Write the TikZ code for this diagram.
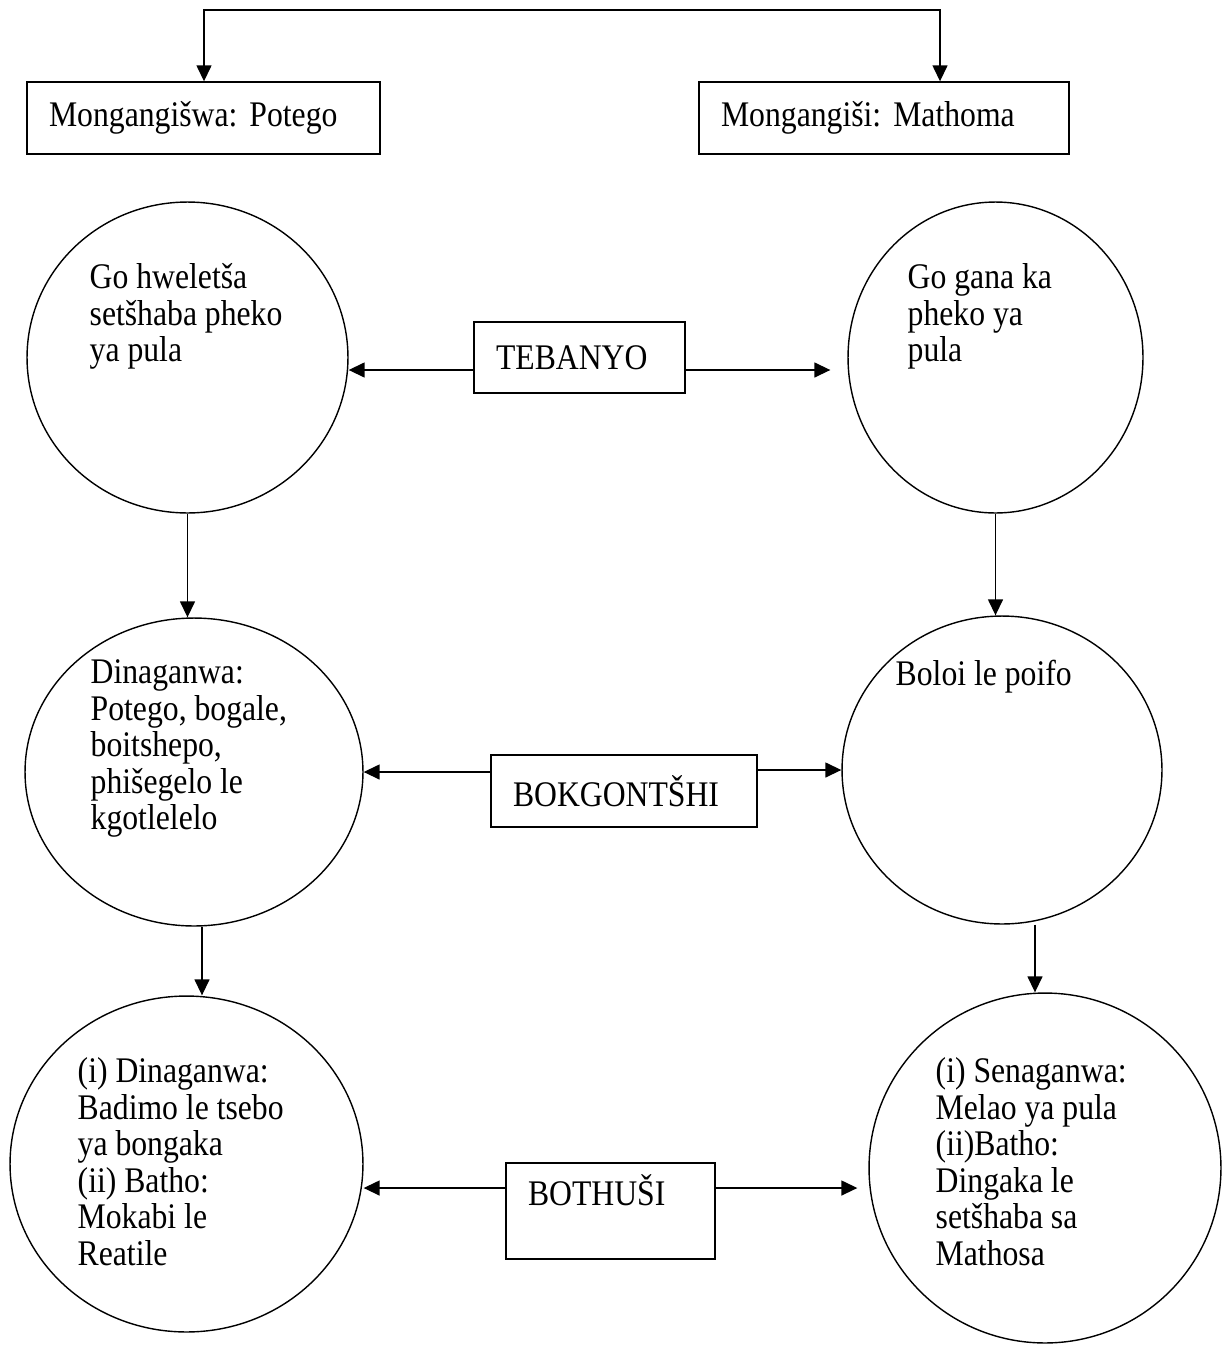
\documentclass[tikz,border=0pt]{standalone}
\usepackage{fontspec}
\setmainfont{Liberation Serif}[FakeStretch=0.88]
\usetikzlibrary{shapes.geometric,arrows.meta}
\frenchspacing

\begin{document}
\begin{tikzpicture}[x=0.02cm,y=-0.02cm,
    font=\fontsize{20.5pt}{20.8pt}\selectfont,
    line width=0.8pt,
    >={Triangle[length=3.2mm,width=3mm]},
    labelbox/.style={draw,rectangle,inner xsep=0.44cm,inner ysep=0pt,align=left},
    bubble/.style={draw,ellipse,inner sep=0pt},
    bubbletext/.style={align=left,inner sep=0pt,anchor=north west}]
    \useasboundingbox (0,0) rectangle (1228,1349);
    \node [labelbox,text width=6.18cm,minimum height=1.44cm] (mongangiswa) at (203.5,118) {Mongangišwa: Potego};
    \node [labelbox,text width=6.52cm,minimum height=1.44cm] (mongangisi) at (884,118) {Mongangiši: Mathoma};
    \node [labelbox,text width=3.34cm,minimum height=1.42cm] (tebanyo) at (579.5,357.5) {TEBANYO};
    \node [labelbox,text width=4.44cm,minimum height=1.44cm] (bokgontshi) at (624,791) {BOKGONTŠHI};
    \node [labelbox,text width=3.30cm,text height=0.84cm,text depth=1.08cm] (bothusi) at (610.5,1211) {BOTHUŠI};
    \node [bubble,minimum width=6.42cm,minimum height=6.22cm] (hweletsa) at (187.5,357.5) {};
    \node [bubble,minimum width=5.9cm,minimum height=6.22cm] (gana) at (995.5,357.5) {};
    \node [bubble,minimum width=6.76cm,minimum height=6.16cm] (dinaganwa) at (194,772) {};
    \node [bubble,minimum width=6.4cm,minimum height=6.16cm] (boloi) at (1002,770) {};
    \node [bubble,minimum width=7.06cm,minimum height=6.72cm] (badimo) at (186.5,1164) {};
    \node [bubble,minimum width=7.04cm,minimum height=7cm] (melao) at (1045,1168) {};
    \node [bubbletext] (hweletsatext) at (89,263) {Go hweletša\\setšhaba pheko\\ya pula};
    \node [bubbletext] (ganatext) at (907,263) {Go gana ka\\pheko ya\\pula};
    \node [bubbletext] (dinaganwatext) at (90,659) {Dinaganwa:\\Potego, bogale,\\boitshepo,\\phišegelo le\\kgotlelelo};
    \node [bubbletext] (boloitext) at (895,659) {Boloi le poifo};
    \node [bubbletext] (badimotext) at (77,1057) {(i) Dinaganwa:\\Badimo le tsebo\\ya bongaka\\(ii) Batho:\\Mokabi le\\Reatile};
    \node [bubbletext] (melaotext) at (935,1057) {(i) Senaganwa:\\Melao ya pula\\(ii)Batho:\\Dingaka le\\setšhaba sa\\Mathosa};
    \coordinate (topleft) at (204,10);
    \coordinate (topright) at (940,10);
    \draw [<->] (topleft |- mongangiswa.north) -- (topleft) -- (topright) -- (topright |- mongangisi.north);
    \draw [->] ([yshift=-0.25cm]tebanyo.west) -- ([yshift=-0.25cm]tebanyo.west -| hweletsa.east);
    \draw [->,shorten >=0.34cm] ([yshift=-0.25cm]tebanyo.east) -- ([yshift=-0.25cm]tebanyo.east -| gana.west);
    \draw [->] (bokgontshi.west |- dinaganwa.east) -- (dinaganwa.east);
    \draw [->] (bokgontshi.east |- boloi.west) -- (boloi.west);
    \draw [->] ([yshift=0.46cm]bothusi.west) -- ([yshift=0.46cm]bothusi.west -| badimo.east);
    \draw [->,shorten >=0.22cm] ([yshift=0.46cm]bothusi.east) -- ([yshift=0.46cm]bothusi.east -| melao.west);
    \draw [->] (hweletsa.south) -- (hweletsa.south |- dinaganwa.north);
    \draw [->] (gana.south) -- (gana.south |- boloi.north);
    \draw [->] ([xshift=0.16cm]dinaganwa.south) -- ([xshift=0.16cm]dinaganwa.south |- badimo.north);
    \draw [->] ([xshift=0.66cm]boloi.south) -- ([xshift=0.66cm]boloi.south |- melao.north);
\end{tikzpicture}
\end{document}
